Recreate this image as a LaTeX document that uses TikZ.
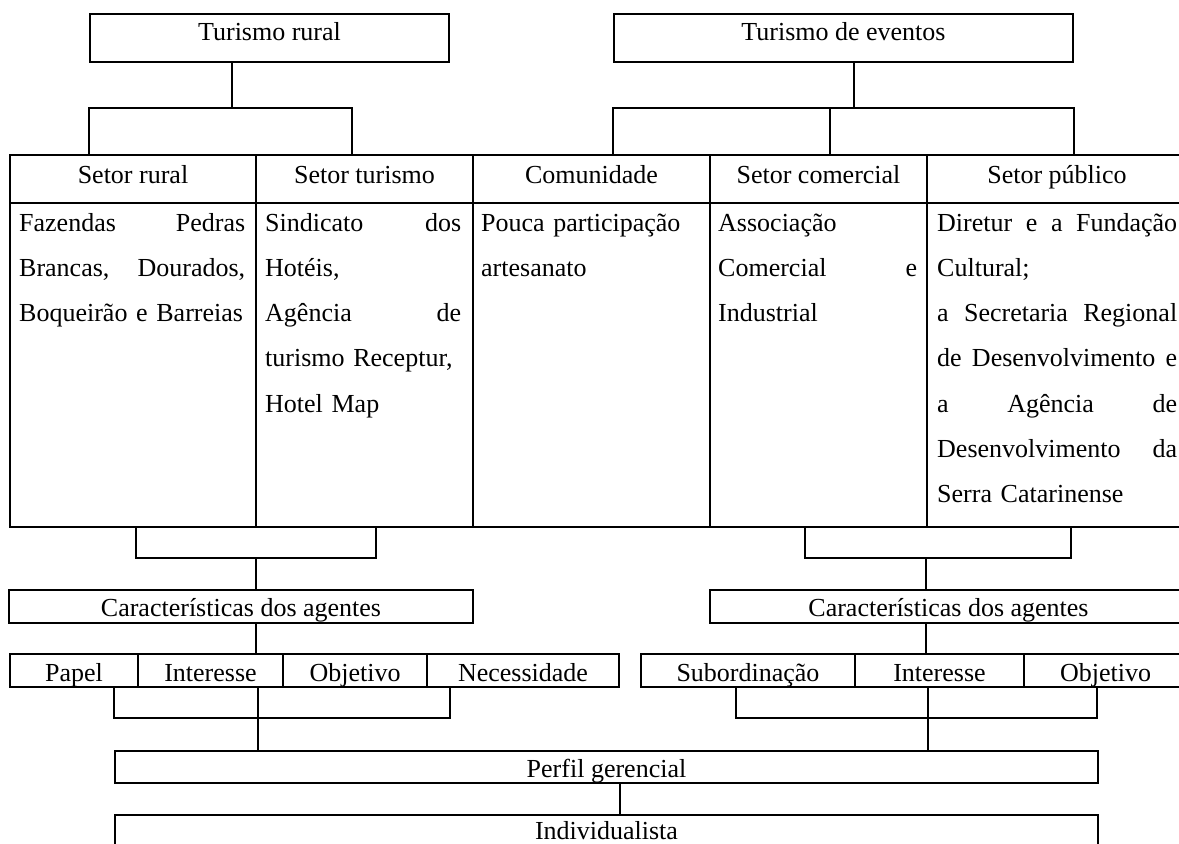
\documentclass[tikz,border=0pt]{standalone}
\usepackage{fontspec}
\setmainfont{Liberation Serif}
% one justified line of a table cell, its word spaces stretched to the given width
\newcommand\jline[2]{\makebox[#1][s]{\spaceskip=.25em plus 1fil\relax #2}}
\begin{document}
\begin{tikzpicture}[x=1pt,y=-1pt,
  every node/.style={font=\fontsize{26}{45.3}\selectfont},
  box/.style={draw, line width=2pt, inner sep=0pt, anchor=north west},
  tall/.style={box, text height=26pt, text depth=22pt},
  head/.style={box, text height=28pt, text depth=20pt},
  body/.style={box, minimum height=324pt},
  slim/.style={box, text height=26pt, text depth=7pt},
  item/.style={box, text height=27pt, text depth=6pt},
  wide/.style={box, text height=26pt, text depth=6pt},
  bottom/.style={box, text height=24pt, text depth=8pt},
  bodytext/.style={inner sep=0pt, anchor=base west, align=left},
  conn/.style={line width=2pt}]
\path[use as bounding box, clip] (0,0) rectangle (1179,844);
\fill[white] (0,0) rectangle (1179,844);

% top level
\node[tall, minimum width=359pt] (tr) at (89,13) {Turismo rural};
\node[tall, minimum width=459pt] (te) at (613,13) {Turismo de eventos};

% table: header row
\node[head, minimum width=246pt] (h1) at (9,154)   {Setor rural};
\node[head, minimum width=217pt] (h2) at (255,154) {Setor turismo};
\node[head, minimum width=237pt] (h3) at (472,154) {Comunidade};
\node[head, minimum width=217pt] (h4) at (709,154) {Setor comercial};
\node[head, minimum width=260pt] (h5) at (926,154) {Setor público};

% table: body cells
\node[body, minimum width=246pt] (b1) at (9,202) {};
\node[body, minimum width=217pt] (b2) at (255,202) {};
\node[body, minimum width=237pt] (b3) at (472,202) {};
\node[body, minimum width=217pt] (b4) at (709,202) {};
\node[body, minimum width=260pt] (b5) at (926,202) {};

\node[bodytext, text width=226pt] (t1) at (19,231) {%
  \jline{226pt}{Fazendas Pedras}\\
  \jline{226pt}{Brancas, Dourados,}\\
  Boqueirão e Barreias};
\node[bodytext, text width=196pt] (t2) at (265,231) {%
  \jline{196pt}{Sindicato dos}\\
  Hotéis,\\
  \jline{196pt}{Agência de}\\
  turismo Receptur,\\
  Hotel Map};
\node[bodytext, text width=218pt] (t3) at (481,231) {%
  Pouca participação\\
  artesanato};
\node[bodytext, text width=199pt] (t4) at (718,231) {%
  Associação\\
  \jline{199pt}{Comercial e}\\
  Industrial};
\node[bodytext, text width=240pt] (t5) at (937,231) {%
  \jline{240pt}{Diretur e a Fundação}\\
  Cultural;\\
  \jline{240pt}{a Secretaria Regional}\\
  \jline{240pt}{de Desenvolvimento e}\\
  \jline{240pt}{a Agência de}\\
  \jline{240pt}{Desenvolvimento da}\\
  Serra Catarinense};

% agents
\node[slim, minimum width=464pt] (ca) at (8,589)   {Características dos agentes};
\node[slim, minimum width=477pt] (cb) at (709,589) {Características dos agentes};

\node[item, minimum width=128pt] (p1) at (9,653)   {Papel};
\node[item, minimum width=145pt] (p2) at (137,653) {Interesse};
\node[item, minimum width=144pt] (p3) at (282,653) {Objetivo};
\node[item, minimum width=192pt] (p4) at (426,653) {Necessidade};

\node[item, minimum width=214pt] (q1) at (640,653)  {Subordinação};
\node[item, minimum width=169pt] (q2) at (854,653)  {Interesse};
\node[item, minimum width=163pt] (q3) at (1023,653) {Objetivo};

\node[wide, minimum width=983pt] (pg) at (114,750) {Perfil gerencial};
\node[bottom, minimum width=983pt] (ind) at (114,814) {Individualista};

% joints of the connectors
\coordinate (jr) at (232,108);  \coordinate (jrl) at (89,108);  \coordinate (jrr) at (352,108);
\coordinate (je) at (854,108);  \coordinate (jel) at (613,108); \coordinate (jem) at (830,108);
\coordinate (jer) at (1074,108);
\coordinate (kl) at (256,558);  \coordinate (kl1) at (136,558); \coordinate (kl2) at (376,558);
\coordinate (kr) at (926,558);  \coordinate (kr1) at (805,558); \coordinate (kr2) at (1071,558);
\coordinate (ml) at (258,718);  \coordinate (ml1) at (114,718); \coordinate (ml2) at (450,718);
\coordinate (mr) at (928,718);  \coordinate (mr1) at (736,718); \coordinate (mr2) at (1097,718);
\coordinate (np) at (620,798);

% connectors
\draw[conn] (tr.south -| jr) -- (jr);
\draw[conn] (h1.north -| jrl) -- (jrl) -- (jrr) -- (h2.north -| jrr);
\draw[conn] (te.south -| je) -- (je);
\draw[conn] (h3.north -| jel) -- (jel) -- (jer) -- (h5.north -| jer);
\draw[conn] (h4.north -| jem) -- (jem);

\draw[conn] (b1.south -| kl1) -- (kl1) -- (kl2) -- (b2.south -| kl2);
\draw[conn] (kl) -- (ca.north -| kl);
\draw[conn] (ca.south -| kl) -- (p2.north -| kl);
\draw[conn] (b4.south -| kr1) -- (kr1) -- (kr2) -- (b5.south -| kr2);
\draw[conn] (kr) -- (cb.north -| kr);
\draw[conn] (cb.south -| kr) -- (q2.north -| kr);

\draw[conn] (p1.south -| ml1) -- (ml1) -- (ml2) -- (p4.south -| ml2);
\draw[conn] (p2.south -| ml) -- (pg.north -| ml);
\draw[conn] (q1.south -| mr1) -- (mr1) -- (mr2) -- (q3.south -| mr2);
\draw[conn] (q2.south -| mr) -- (pg.north -| mr);
\draw[conn] (pg.south -| np) -- (ind.north -| np);
\end{tikzpicture}
\end{document}
